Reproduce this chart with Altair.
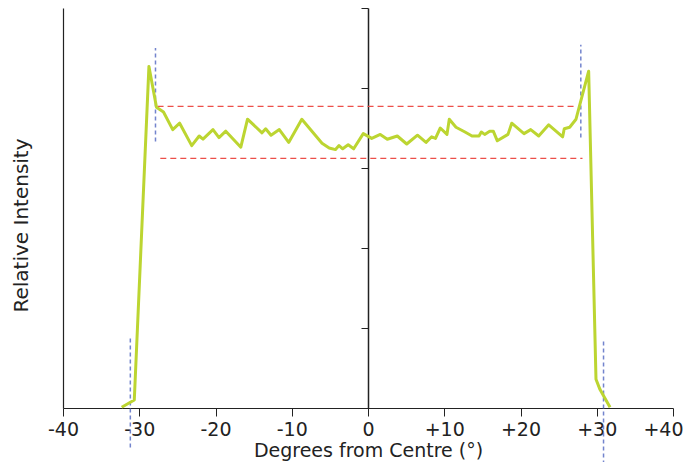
import altair as alt
import pandas as pd

# Intensity profile (degrees from centre, relative intensity)
deg = [-32.30, -30.65, -28.73, -27.74, -26.82, -25.61, -24.70, -23.12, -22.14, -21.64,
       -20.33, -19.54, -18.65, -16.68, -15.80, -13.90, -13.42, -12.72, -11.63, -10.40,
       -8.68, -6.03, -5.09, -4.26, -3.80, -3.32, -2.60, -1.88, -0.62, 0.49,
       1.61, 2.53, 3.84, 5.08, 6.49, 7.61, 8.35, 8.85, 9.48, 10.36,
       10.66, 11.54, 12.72, 13.64, 14.56, 14.86, 15.30, 15.96, 16.43, 16.96,
       18.36, 18.85, 20.46, 21.34, 22.39, 23.70, 25.53, 25.74, 26.45, 27.28,
       28.94, 29.90, 30.43, 31.74]
intensity = [0.01, 0.10, 4.27, 3.76, 3.70, 3.48, 3.56, 3.28, 3.40, 3.36,
             3.48, 3.38, 3.46, 3.26, 3.61, 3.44, 3.49, 3.41, 3.48, 3.32,
             3.61, 3.31, 3.25, 3.23, 3.28, 3.24, 3.29, 3.24, 3.43, 3.37,
             3.42, 3.36, 3.40, 3.30, 3.41, 3.32, 3.39, 3.37, 3.50, 3.42,
             3.61, 3.51, 3.45, 3.40, 3.40, 3.45, 3.42, 3.46, 3.46, 3.34,
             3.42, 3.56, 3.43, 3.48, 3.40, 3.54, 3.39, 3.49, 3.51, 3.61,
             4.21, 0.36, 0.23, 0.01]

# Horizontal red dashed reference lines
red_y = [3.77, 3.12]
red_x1 = [-27.6, -27.24]
red_x2 = [27.2, 28.13]

# Vertical blue dashed reference lines
blue_x = [-27.87, -31.17, 27.91, 30.89]
blue_y1 = [3.33, 0.87, 3.38, 0.83]
blue_y2 = [4.50, -0.52, 4.54, -0.74]

x_ticks = [-40, -30, -20, -10, 0, 10, 20, 30, 40]
y_ticks = [0, 1, 2, 3, 4, 5]

FONT = "DejaVu Sans"

line_df = pd.DataFrame({"deg": deg, "intensity": intensity})
red_df = pd.DataFrame({"y": red_y, "x1": red_x1, "x2": red_x2})
blue_df = pd.DataFrame({"x": blue_x, "y1": blue_y1, "y2": blue_y2})

xscale = alt.Scale(domain=[-40, 40], nice=False)
yscale = alt.Scale(domain=[0, 5], nice=False)

line = alt.Chart(line_df).mark_line(color="#bcd531", strokeWidth=3, strokeJoin="round").encode(
    x=alt.X("deg:Q", scale=xscale,
            axis=alt.Axis(values=x_ticks, title="Degrees from Centre (°)",
                          labelExpr="datum.value > 0 ? '+' + datum.value : '' + datum.value",
                          labelAlign={"condition": {"test": "datum.value == 40", "value": "right"},
                                      "value": "center"},
                          labelOffset={"condition": {"test": "datum.value == 40", "value": 10},
                                       "value": 0},
                          grid=False, tickSize=8, labelPadding=4, titlePadding=2,
                          labelFontSize=19, titleFontSize=19, labelFont=FONT, titleFont=FONT,
                          labelColor="#222", titleColor="#222", titleFontWeight="normal",
                          domainColor="#222", tickColor="#222", domainWidth=1.2)),
    y=alt.Y("intensity:Q", scale=yscale,
            axis=alt.Axis(orient="left", title="Relative Intensity", ticks=False, labels=False,
                          grid=False, titleFontSize=20, titleFont=FONT, titleColor="#222",
                          titleFontWeight="normal", titlePadding=32, titleY=217,
                          domainColor="#222", domainWidth=1.2)),
)

red = alt.Chart(red_df).mark_rule(color="#ec4f4a", strokeWidth=1.2, strokeDash=[6, 4]).encode(
    x=alt.X("x1:Q", scale=xscale),
    x2="x2:Q",
    y=alt.Y("y:Q", scale=yscale, axis=None),
)

blue = alt.Chart(blue_df).mark_rule(color="#5b6fc4", strokeWidth=1.5, strokeDash=[4, 3], opacity=0.85).encode(
    x=alt.X("x:Q", scale=xscale),
    y=alt.Y("y1:Q", scale=yscale,
            axis=alt.Axis(orient="left", offset=-305, values=y_ticks, labels=False, title=None,
                          grid=False, tickSize=7, domainColor="#222", tickColor="#222",
                          domainWidth=1.5)),
    y2="y2:Q",
)

chart = alt.layer(red, blue, line).resolve_axis(y="independent").properties(
    width=610, height=400,
    autosize=alt.AutoSizeParams(type="none"),
    padding={"left": 55, "right": 10, "top": 0, "bottom": 54},
).configure_view(stroke=None)

chart.save("out.html", embed_options={"renderer": "svg", "actions": False})
